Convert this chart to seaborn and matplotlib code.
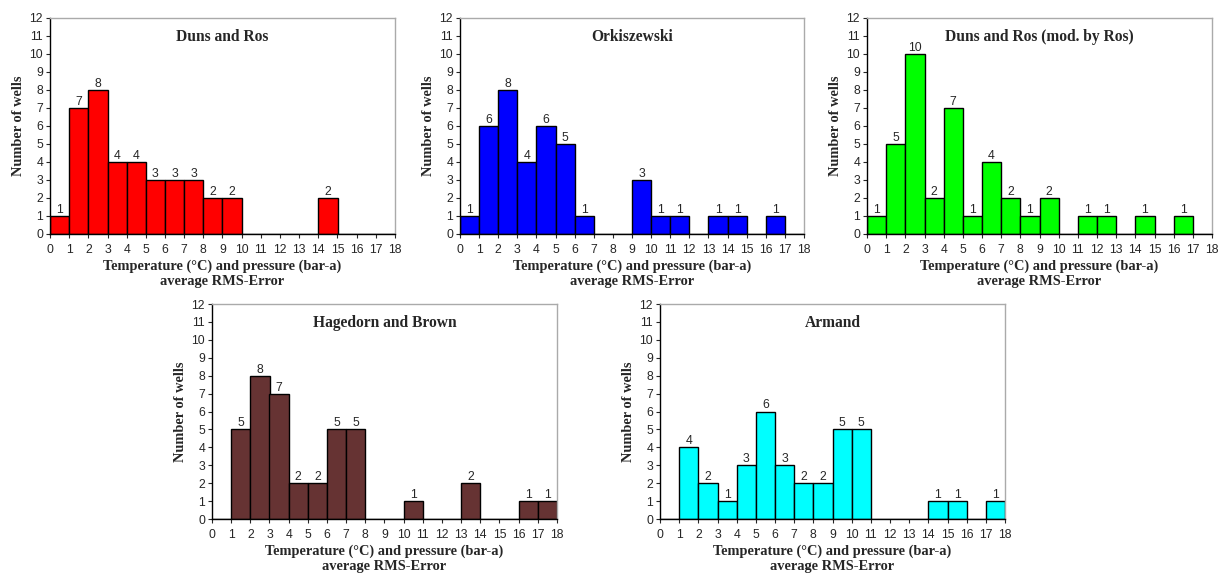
import numpy as np
import matplotlib
matplotlib.use("Agg")
import matplotlib.pyplot as plt
import seaborn as sns

# ---- data ----
bin_edges = list(range(0, 19))
bin_centers = [i + 0.5 for i in range(18)]

duns_ros = [1, 7, 8, 4, 4, 3, 3, 3, 2, 2, 0, 0, 0, 0, 2, 0, 0, 0]
orkiszewski = [1, 6, 8, 4, 6, 5, 1, 0, 0, 3, 1, 1, 0, 1, 1, 0, 1, 0]
duns_ros_mod = [1, 5, 10, 2, 7, 1, 4, 2, 1, 2, 0, 1, 1, 0, 1, 0, 1, 0]
hagedorn_brown = [0, 5, 8, 7, 2, 2, 5, 5, 0, 0, 1, 0, 0, 2, 0, 0, 1, 1]
armand = [0, 4, 2, 1, 3, 6, 3, 2, 2, 5, 5, 0, 0, 0, 1, 1, 0, 1]

titles = ["Duns and Ros", "Orkiszewski", "Duns and Ros (mod. by Ros)",
          "Hagedorn and Brown", "Armand"]
series = [duns_ros, orkiszewski, duns_ros_mod, hagedorn_brown, armand]
colors = ["#FF0000", "#0000FF", "#00FF00", "#663333", "#00FFFF"]
x_ticks = list(range(0, 19))
y_ticks = list(range(0, 13))
xlabel = "Temperature (°C) and pressure (bar-a)\naverage RMS-Error"
ylabel = "Number of wells"

sns.set_style("ticks")
plt.rcParams["font.family"] = ["Liberation Sans", "DejaVu Sans"]

W, H = 1222, 574
fig = plt.figure(figsize=(W / 100, H / 100), dpi=100)

# axes boxes in pixels: left, top, right, bottom
boxes = [(50, 18, 395, 234), (460, 18, 804, 234), (867, 18, 1212, 234),
         (212, 304, 557, 519), (660, 304, 1005, 519)]

serif = ["Liberation Serif", "DejaVu Serif"]

for (l, t, r, b), title, vals, col in zip(boxes, titles, series, colors):
    ax = fig.add_axes([l / W, 1 - b / H, (r - l) / W, (b - t) / H])
    sns.histplot(x=bin_centers, weights=vals, bins=bin_edges, color=col,
                 edgecolor="black", linewidth=1.0, alpha=1, ax=ax)
    ax.set_xlim(0, 18)
    ax.set_ylim(0, 12)
    ax.set_xticks(x_ticks)
    ax.set_yticks(y_ticks)
    ax.tick_params(axis="both", labelsize=8.8, length=3, width=0.8,
                   direction="out")
    ax.tick_params(axis="x", pad=4)
    ax.tick_params(axis="y", pad=2)
    for s in ["top", "right"]:
        ax.spines[s].set_color("#aaaaaa")
        ax.spines[s].set_linewidth(1.0)
    for s in ["left", "bottom"]:
        ax.spines[s].set_color("black")
        ax.spines[s].set_linewidth(1.0)
    ax.set_xlabel(xlabel, family=serif, fontweight="bold", fontsize=10.4,
                  labelpad=3, linespacing=1.2)
    ax.set_ylabel(ylabel, family=serif, fontweight="bold", fontsize=10.4,
                  labelpad=3)
    ax.text(0.5, 0.91, title, transform=ax.transAxes, ha="center",
            va="center", family=serif, fontweight="bold", fontsize=11.2)
    labels = [str(v) if v else "" for v in vals]
    ax.bar_label(ax.containers[0], labels=labels, fontsize=8.8, padding=0)

fig.savefig("out.png", dpi=100)
